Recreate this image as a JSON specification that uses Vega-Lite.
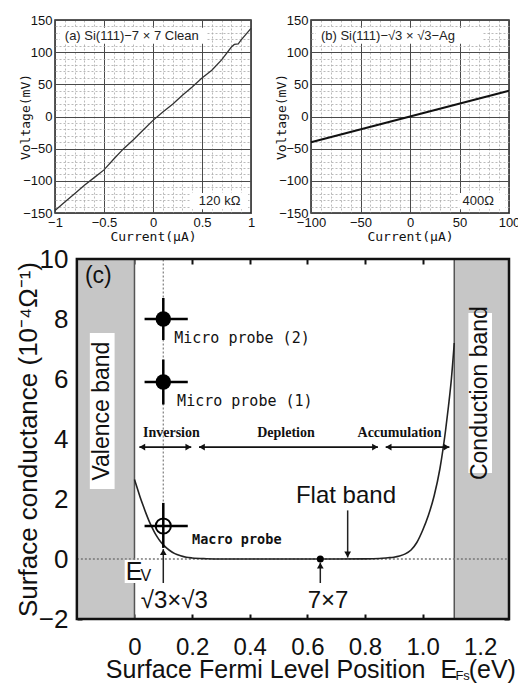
{
  "$schema": "https://vega.github.io/schema/vega-lite/v6.json",
  "padding": {"left": 15, "top": 13, "right": 0, "bottom": 0},
  "background": "white",
  "config": {"font": "Liberation Sans", "axis": {"labelColor": "#111", "titleColor": "#111"}},
  "datasets": {
    "ivA": [
      {"current": -1, "voltage": -146}, {"current": -0.9, "voltage": -133}, {"current": -0.8, "voltage": -120},
      {"current": -0.7, "voltage": -107}, {"current": -0.6, "voltage": -95}, {"current": -0.5, "voltage": -83},
      {"current": -0.4, "voltage": -66}, {"current": -0.3, "voltage": -50}, {"current": -0.2, "voltage": -36},
      {"current": -0.1, "voltage": -21}, {"current": 0, "voltage": -6}, {"current": 0.1, "voltage": 7},
      {"current": 0.2, "voltage": 19}, {"current": 0.3, "voltage": 33}, {"current": 0.4, "voltage": 46},
      {"current": 0.5, "voltage": 60}, {"current": 0.6, "voltage": 72}, {"current": 0.7, "voltage": 88},
      {"current": 0.8, "voltage": 108}, {"current": 0.83, "voltage": 112}, {"current": 0.87, "voltage": 113},
      {"current": 0.9, "voltage": 119}, {"current": 0.95, "voltage": 128}, {"current": 1, "voltage": 137}
    ],
    "ivB": [{"current": -100, "voltage": -40}, {"current": 100, "voltage": 40}],
    "boxA": [
      {"current": -0.95, "current2": 0.55, "voltage": 113, "voltage2": 138},
      {"current": 0.38, "current2": 0.97, "voltage": -119, "voltage2": -144}
    ],
    "labelA": [{"current": -0.9, "voltage": 125, "label": "(a) Si(111)−7 × 7 Clean"}],
    "resA": [{"current": 0.68, "voltage": -131, "label": "120 kΩ"}],
    "boxB": [
      {"current": -95, "current2": 73, "voltage": 113, "voltage2": 138},
      {"current": 50, "current2": 96, "voltage": -119, "voltage2": -144}
    ],
    "labelB": [{"current": -90, "voltage": 125, "label": "(b) Si(111)−√3 × √3−Ag"}],
    "resB": [{"current": 69, "voltage": -131, "label": "400Ω"}],
    "frameC": [{"E": -0.2, "E2": 1.3, "s": -2, "s2": 10}],
    "bandsC": [{"E": -0.2, "E2": 0, "s": -2, "s2": 10}, {"E": 1.11, "E2": 1.3, "s": -2, "s2": 10}],
    "bandEdges": [{"E": 0, "s": -2, "s2": 10}, {"E": 1.11, "s": -2, "s2": 10}],
    "zeroLine": [{"E": -0.2, "E2": 1.3, "s": 0}],
    "guideC": [{"E": 0.1, "s": 0.45, "s2": 10}],
    "bandBoxes": [{"E": -0.155, "E2": -0.069, "s": 2.33, "s2": 7.53}, {"E": 1.159, "E2": 1.241, "s": 2.87, "s2": 8.2}],
    "bandLabels": [{"E": -0.112, "s": 4.93, "label": "Valence band"}, {"E": 1.2, "s": 5.53, "label": "Conduction band"}],
    "curveC": [
      {"E": 0, "s": 2.65}, {"E": 0.01, "s": 2.35}, {"E": 0.02, "s": 2.05}, {"E": 0.03, "s": 1.78},
      {"E": 0.04, "s": 1.52}, {"E": 0.05, "s": 1.28}, {"E": 0.06, "s": 1.07}, {"E": 0.07, "s": 0.88},
      {"E": 0.08, "s": 0.72}, {"E": 0.09, "s": 0.58}, {"E": 0.1, "s": 0.47}, {"E": 0.12, "s": 0.3},
      {"E": 0.14, "s": 0.18}, {"E": 0.16, "s": 0.11}, {"E": 0.18, "s": 0.06}, {"E": 0.2, "s": 0.035},
      {"E": 0.25, "s": 0.01}, {"E": 0.3, "s": 0}, {"E": 0.4, "s": 0}, {"E": 0.5, "s": 0},
      {"E": 0.6, "s": 0}, {"E": 0.7, "s": 0}, {"E": 0.8, "s": 0.005}, {"E": 0.85, "s": 0.015},
      {"E": 0.88, "s": 0.04}, {"E": 0.9, "s": 0.06}, {"E": 0.92, "s": 0.1}, {"E": 0.94, "s": 0.17},
      {"E": 0.96, "s": 0.3}, {"E": 0.98, "s": 0.55}, {"E": 1.0, "s": 0.95}, {"E": 1.02, "s": 1.45},
      {"E": 1.04, "s": 2.1}, {"E": 1.06, "s": 3.0}, {"E": 1.08, "s": 4.3}, {"E": 1.09, "s": 5.1},
      {"E": 1.1, "s": 6.0}, {"E": 1.11, "s": 7.2}
    ],
    "hbars": [{"E": 0.035, "E2": 0.185, "s": 8.0}, {"E": 0.035, "E2": 0.185, "s": 5.9}, {"E": 0.035, "E2": 0.185, "s": 1.1}],
    "vbars": [{"E": 0.1, "s": 7.3, "s2": 8.7}, {"E": 0.1, "s": 5.15, "s2": 6.65}, {"E": 0.1, "s": 0.37, "s2": 1.87}],
    "microC": [{"E": 0.1, "s": 8.0}, {"E": 0.1, "s": 5.9}],
    "macroC": [{"E": 0.1, "s": 1.1}],
    "dot77": [{"E": 0.645, "s": 0}],
    "regionArrows": [{"E": 0.017, "E2": 0.197, "s": 3.73}, {"E": 0.224, "E2": 0.845, "s": 3.73}, {"E": 0.872, "E2": 1.093, "s": 3.73}],
    "heads": [
      {"E": 0.027, "s": 3.73, "dir": "left"}, {"E": 0.187, "s": 3.73, "dir": "right"},
      {"E": 0.234, "s": 3.73, "dir": "left"}, {"E": 0.835, "s": 3.73, "dir": "right"},
      {"E": 0.882, "s": 3.73, "dir": "left"}, {"E": 1.083, "s": 3.73, "dir": "right"},
      {"E": 0.1, "s": 0.23, "dir": "up"}, {"E": 0.645, "s": -0.22, "dir": "up"}, {"E": 0.74, "s": 0.15, "dir": "down"}
    ],
    "pointers": [{"E": 0.1, "s": -0.8, "s2": 0.33}, {"E": 0.645, "s": -0.8, "s2": -0.12}, {"E": 0.74, "s": 1.62, "s2": 0.05}],
    "regionLabels": [{"E": 0.128, "s": 4.2, "label": "Inversion"}, {"E": 0.526, "s": 4.2, "label": "Depletion"}, {"E": 0.92, "s": 4.2, "label": "Accumulation"}],
    "microLabels": [{"E": 0.138, "s": 7.37, "label": "Micro probe (2)"}, {"E": 0.148, "s": 5.27, "label": "Micro probe (1)"}],
    "macroLabel": [{"E": 0.2, "s": 0.63, "label": "Macro probe"}],
    "bigLabels": [{"E": 0.734, "s": 2.1, "label": "Flat band"}, {"E": 0.138, "s": -1.4, "label": "√3×√3"}, {"E": 0.672, "s": -1.4, "label": "7×7"}],
    "panelC": [{"E": -0.172, "s": 9.43, "label": "(c)"}],
    "evBox": [{"E": -0.034, "E2": 0.052, "s": -0.03, "s2": -0.8}],
    "evMain": [{"E": -0.03, "s": -0.42, "label": "E"}],
    "evSub": [{"E": 0.021, "s": -0.58, "label": "V"}],
    "xTitleMain": [{"E": 1.01, "s": -3.7, "label": "Surface Fermi Level Position"}],
    "xTitleE": [{"E": 1.062, "s": -3.7, "label": "E"}, {"E": 1.16, "s": -3.7, "label": "(eV)"}],
    "xTitleSub": [{"E": 1.114, "s": -3.91, "label": "Fs"}]
  },
  "concat": [
    {
      "hconcat": [
        {
          "width": 196, "height": 193,
          "view": {"stroke": "#222", "strokeWidth": 1.5},
          "encoding": {
            "x": {"field": "current", "type": "quantitative", "scale": {"domain": [-1, 1], "nice": false, "zero": false},
              "axis": {"title": "Current(μA)", "titleFont": "DejaVu Sans Mono", "titleFontSize": 13, "titleFontWeight": "normal", "titlePadding": 1,
                "values": [-1, -0.9, -0.8, -0.7, -0.6, -0.5, -0.4, -0.3, -0.2, -0.1, 0, 0.1, 0.2, 0.3, 0.4, 0.5, 0.6, 0.7, 0.8, 0.9, 1],
                "format": "~g", "labelExpr": "abs(round(datum.value*10)) % 5 == 0 ? datum.label : ''",
                "labelFont": "Liberation Sans", "labelFontSize": 13, "labelPadding": 3, "labelFlush": false, "labelOverlap": false,
                "ticks": false, "domain": false, "grid": true,
                "gridColor": {"condition": {"test": "abs(round(datum.value*10)) % 5 == 0", "value": "#4a4a4a"}, "value": "#a8a8a8"},
                "gridDash": {"condition": {"test": "abs(round(datum.value*10)) % 5 == 0", "value": []}, "value": [2, 2]},
                "gridWidth": {"condition": {"test": "abs(round(datum.value*10)) % 5 == 0", "value": 1}, "value": 0.8}}},
            "y": {"field": "voltage", "type": "quantitative", "scale": {"domain": [-150, 150], "nice": false},
              "axis": {"title": "Voltage(mV)", "titleFont": "DejaVu Sans Mono", "titleFontSize": 13, "titleFontWeight": "normal", "titlePadding": -10,
                "values": [-150, -140, -130, -120, -110, -100, -90, -80, -70, -60, -50, -40, -30, -20, -10, 0, 10, 20, 30, 40, 50, 60, 70, 80, 90, 100, 110, 120, 130, 140, 150],
                "labelExpr": "datum.value % 50 == 0 ? datum.label : ''",
                "labelFont": "Liberation Sans", "labelFontSize": 13, "labelPadding": 3, "labelOverlap": false, "labelFlush": false,
                "ticks": false, "domain": false, "grid": true,
                "gridColor": {"condition": {"test": "datum.value % 50 == 0", "value": "#4a4a4a"}, "value": "#a8a8a8"},
                "gridDash": {"condition": {"test": "datum.value % 50 == 0", "value": []}, "value": [2, 2]},
                "gridWidth": {"condition": {"test": "datum.value % 50 == 0", "value": 1}, "value": 0.8}}}
          },
          "layer": [
            {"data": {"name": "boxA"}, "mark": {"type": "rect", "fill": "white"}, "encoding": {"x2": {"field": "current2"}, "y2": {"field": "voltage2"}}},
            {"data": {"name": "ivA"}, "mark": {"type": "line", "color": "#333", "strokeWidth": 1.3}},
            {"data": {"name": "labelA"}, "mark": {"type": "text", "align": "left", "baseline": "middle", "fontSize": 13, "font": "Liberation Sans", "color": "#222"}, "encoding": {"text": {"field": "label"}}},
            {"data": {"name": "resA"}, "mark": {"type": "text", "align": "center", "baseline": "middle", "fontSize": 13, "font": "Liberation Sans", "color": "#222"}, "encoding": {"text": {"field": "label"}}}
          ]
        },
        {
          "width": 198, "height": 193,
          "view": {"stroke": "#222", "strokeWidth": 1.5},
          "encoding": {
            "x": {"field": "current", "type": "quantitative", "scale": {"domain": [-100, 100], "nice": false, "zero": false},
              "axis": {"title": "Current(μA)", "titleFont": "DejaVu Sans Mono", "titleFontSize": 13, "titleFontWeight": "normal", "titlePadding": 1,
                "values": [-100, -90, -80, -70, -60, -50, -40, -30, -20, -10, 0, 10, 20, 30, 40, 50, 60, 70, 80, 90, 100],
                "labelExpr": "datum.value % 50 == 0 ? datum.label : ''",
                "labelFont": "Liberation Sans", "labelFontSize": 13, "labelPadding": 3, "labelFlush": false, "labelOverlap": false,
                "ticks": false, "domain": false, "grid": true,
                "gridColor": {"condition": {"test": "datum.value % 50 == 0", "value": "#4a4a4a"}, "value": "#a8a8a8"},
                "gridDash": {"condition": {"test": "datum.value % 50 == 0", "value": []}, "value": [2, 2]},
                "gridWidth": {"condition": {"test": "datum.value % 50 == 0", "value": 1}, "value": 0.8}}},
            "y": {"field": "voltage", "type": "quantitative", "scale": {"domain": [-150, 150], "nice": false},
              "axis": {"title": "Voltage(mV)", "titleFont": "DejaVu Sans Mono", "titleFontSize": 13, "titleFontWeight": "normal", "titlePadding": -10,
                "values": [-150, -140, -130, -120, -110, -100, -90, -80, -70, -60, -50, -40, -30, -20, -10, 0, 10, 20, 30, 40, 50, 60, 70, 80, 90, 100, 110, 120, 130, 140, 150],
                "labelExpr": "datum.value % 50 == 0 ? datum.label : ''",
                "labelFont": "Liberation Sans", "labelFontSize": 13, "labelPadding": 3, "labelOverlap": false, "labelFlush": false,
                "ticks": false, "domain": false, "grid": true,
                "gridColor": {"condition": {"test": "datum.value % 50 == 0", "value": "#4a4a4a"}, "value": "#a8a8a8"},
                "gridDash": {"condition": {"test": "datum.value % 50 == 0", "value": []}, "value": [2, 2]},
                "gridWidth": {"condition": {"test": "datum.value % 50 == 0", "value": 1}, "value": 0.8}}}
          },
          "layer": [
            {"data": {"name": "boxB"}, "mark": {"type": "rect", "fill": "white"}, "encoding": {"x2": {"field": "current2"}, "y2": {"field": "voltage2"}}},
            {"data": {"name": "ivB"}, "mark": {"type": "line", "color": "#111", "strokeWidth": 2}},
            {"data": {"name": "labelB"}, "mark": {"type": "text", "align": "left", "baseline": "middle", "fontSize": 13, "font": "Liberation Sans", "color": "#222"}, "encoding": {"text": {"field": "label"}}},
            {"data": {"name": "resB"}, "mark": {"type": "text", "align": "center", "baseline": "middle", "fontSize": 13, "font": "Liberation Sans", "color": "#222"}, "encoding": {"text": {"field": "label"}}}
          ]
        }
      ],
      "spacing": 18
    },
    {
      "width": 454, "height": 360,
      "view": {"stroke": null},
      "resolve": {"axis": {"x": "independent", "y": "independent"}},
      "layer": [
        {
          "encoding": {
            "x": {"field": "E", "type": "quantitative", "scale": {"domain": [-0.2759, 1.3], "nice": false, "zero": false},
              "axis": {"orient": "bottom", "title": null, "values": [0, 0.2, 0.4, 0.6, 0.8, 1, 1.2],
                "labelExpr": "datum.value == 0 ? '0' : format(datum.value, '.1f')",
                "labelFont": "Liberation Sans", "labelFontSize": 24, "labelPadding": 21, "labelFlush": false, "labelOverlap": false,
                "ticks": true, "tickSize": -5, "tickWidth": 2, "tickColor": "#111", "domain": false, "grid": false}},
            "y": {"field": "s", "type": "quantitative", "scale": {"domain": [-2, 10], "nice": false},
              "axis": {"orient": "left", "offset": -22, "title": "Surface conductance (10⁻⁴Ω⁻¹)", "titleFont": "Liberation Sans", "titleFontSize": 26, "titleFontWeight": "normal", "titlePadding": -3,
                "values": [-2, 0, 2, 4, 6, 8, 10],
                "labelFont": "Liberation Sans", "labelFontSize": 26, "labelPadding": 14, "labelFlush": false, "labelOverlap": false,
                "ticks": true, "tickSize": -5, "tickWidth": 2, "tickColor": "#111", "domain": false, "grid": false}}
          },
          "layer": [
            {"data": {"name": "bandsC"}, "mark": {"type": "rect", "fill": "#c6c6c6"}, "encoding": {"x2": {"field": "E2"}, "y2": {"field": "s2"}}},
            {"data": {"name": "bandEdges"}, "mark": {"type": "rule", "color": "#555", "strokeWidth": 1.5}, "encoding": {"y2": {"field": "s2"}}},
            {"data": {"name": "zeroLine"}, "mark": {"type": "rule", "color": "#777", "strokeWidth": 1.3, "strokeDash": [2, 2]}, "encoding": {"x2": {"field": "E2"}}},
            {"data": {"name": "guideC"}, "mark": {"type": "rule", "color": "#888", "strokeWidth": 1.3, "strokeDash": [2, 2]}, "encoding": {"y2": {"field": "s2"}}},
            {"data": {"name": "bandBoxes"}, "mark": {"type": "rect", "fill": "white"}, "encoding": {"x2": {"field": "E2"}, "y2": {"field": "s2"}}},
            {"data": {"name": "bandLabels"}, "mark": {"type": "text", "angle": 270, "align": "center", "baseline": "middle", "fontSize": 23, "font": "Liberation Sans", "color": "#111"}, "encoding": {"text": {"field": "label"}}},
            {"data": {"name": "curveC"}, "mark": {"type": "line", "color": "#222", "strokeWidth": 1.6, "interpolate": "monotone"}},
            {"data": {"name": "hbars"}, "mark": {"type": "rule", "color": "#000", "strokeWidth": 2.5}, "encoding": {"x2": {"field": "E2"}}},
            {"data": {"name": "vbars"}, "mark": {"type": "rule", "color": "#000", "strokeWidth": 2.5}, "encoding": {"y2": {"field": "s2"}}},
            {"data": {"name": "microC"}, "mark": {"type": "point", "shape": "circle", "filled": true, "color": "#000", "size": 240, "opacity": 1}},
            {"data": {"name": "macroC"}, "mark": {"type": "point", "shape": "circle", "filled": false, "color": "#000", "strokeWidth": 2, "size": 230, "opacity": 1}},
            {"data": {"name": "dot77"}, "mark": {"type": "point", "shape": "circle", "filled": true, "color": "#000", "size": 50, "opacity": 1}},
            {"data": {"name": "regionArrows"}, "mark": {"type": "rule", "color": "#111", "strokeWidth": 1.6}, "encoding": {"x2": {"field": "E2"}}},
            {"data": {"name": "pointers"}, "mark": {"type": "rule", "color": "#222", "strokeWidth": 1.5}, "encoding": {"y2": {"field": "s2"}}},
            {"data": {"name": "heads"}, "mark": {"type": "point", "filled": true, "color": "#111", "size": 45, "opacity": 1},
              "encoding": {"shape": {"field": "dir", "type": "nominal", "scale": {"domain": ["left", "right", "up", "down"], "range": ["triangle-left", "triangle-right", "triangle-up", "triangle-down"]}, "legend": null}}},
            {"data": {"name": "regionLabels"}, "mark": {"type": "text", "align": "center", "baseline": "middle", "fontSize": 14, "font": "Liberation Serif", "fontWeight": "bold", "color": "#111"}, "encoding": {"text": {"field": "label"}}},
            {"data": {"name": "microLabels"}, "mark": {"type": "text", "align": "left", "baseline": "middle", "fontSize": 15, "font": "DejaVu Sans Mono", "color": "#111"}, "encoding": {"text": {"field": "label"}}},
            {"data": {"name": "macroLabel"}, "mark": {"type": "text", "align": "left", "baseline": "middle", "fontSize": 13.5, "font": "DejaVu Sans Mono", "fontWeight": "bold", "color": "#111"}, "encoding": {"text": {"field": "label"}}},
            {"data": {"name": "bigLabels"}, "mark": {"type": "text", "align": "center", "baseline": "middle", "fontSize": 24, "font": "Liberation Sans", "color": "#111"}, "encoding": {"text": {"field": "label"}}},
            {"data": {"name": "panelC"}, "mark": {"type": "text", "align": "left", "baseline": "middle", "fontSize": 23, "font": "Liberation Sans", "color": "#111"}, "encoding": {"text": {"field": "label"}}},
            {"data": {"name": "evBox"}, "mark": {"type": "rect", "fill": "white"}, "encoding": {"x2": {"field": "E2"}, "y2": {"field": "s2"}}},
            {"data": {"name": "evMain"}, "mark": {"type": "text", "align": "left", "baseline": "middle", "fontSize": 25, "font": "Liberation Sans", "color": "#111"}, "encoding": {"text": {"field": "label"}}},
            {"data": {"name": "evSub"}, "mark": {"type": "text", "align": "left", "baseline": "middle", "fontSize": 16, "font": "Liberation Sans", "color": "#111"}, "encoding": {"text": {"field": "label"}}},
            {"data": {"name": "xTitleMain"}, "mark": {"type": "text", "align": "right", "baseline": "middle", "fontSize": 25, "font": "Liberation Sans", "color": "#111"}, "encoding": {"text": {"field": "label"}}},
            {"data": {"name": "xTitleE"}, "mark": {"type": "text", "align": "left", "baseline": "middle", "fontSize": 25, "font": "Liberation Sans", "color": "#111"}, "encoding": {"text": {"field": "label"}}},
            {"data": {"name": "xTitleSub"}, "mark": {"type": "text", "align": "left", "baseline": "middle", "fontSize": 13, "font": "Liberation Sans", "color": "#111"}, "encoding": {"text": {"field": "label"}}},
            {"data": {"name": "frameC"}, "mark": {"type": "rect", "filled": false, "stroke": "#111", "strokeWidth": 2.5}, "encoding": {"x2": {"field": "E2"}, "y2": {"field": "s2"}}}
          ]
        },
        {
          "data": {"name": "dot77"},
          "mark": {"type": "point", "opacity": 0},
          "encoding": {
            "x": {"field": "E", "type": "quantitative", "scale": {"domain": [-0.2759, 1.3], "nice": false, "zero": false},
              "axis": {"orient": "top", "title": null, "values": [0, 0.2, 0.4, 0.6, 0.8, 1, 1.2], "labels": false,
                "ticks": true, "tickSize": -5, "tickWidth": 2, "tickColor": "#111", "domain": false, "grid": false}},
            "y": {"field": "s", "type": "quantitative", "scale": {"domain": [-2, 10], "nice": false},
              "axis": {"orient": "right", "title": null, "values": [-2, 0, 2, 4, 6, 8, 10], "labels": false,
                "ticks": true, "tickSize": -5, "tickWidth": 2, "tickColor": "#111", "domain": false, "grid": false}}
          }
        }
      ]
    }
  ],
  "columns": 1,
  "spacing": 2
}
